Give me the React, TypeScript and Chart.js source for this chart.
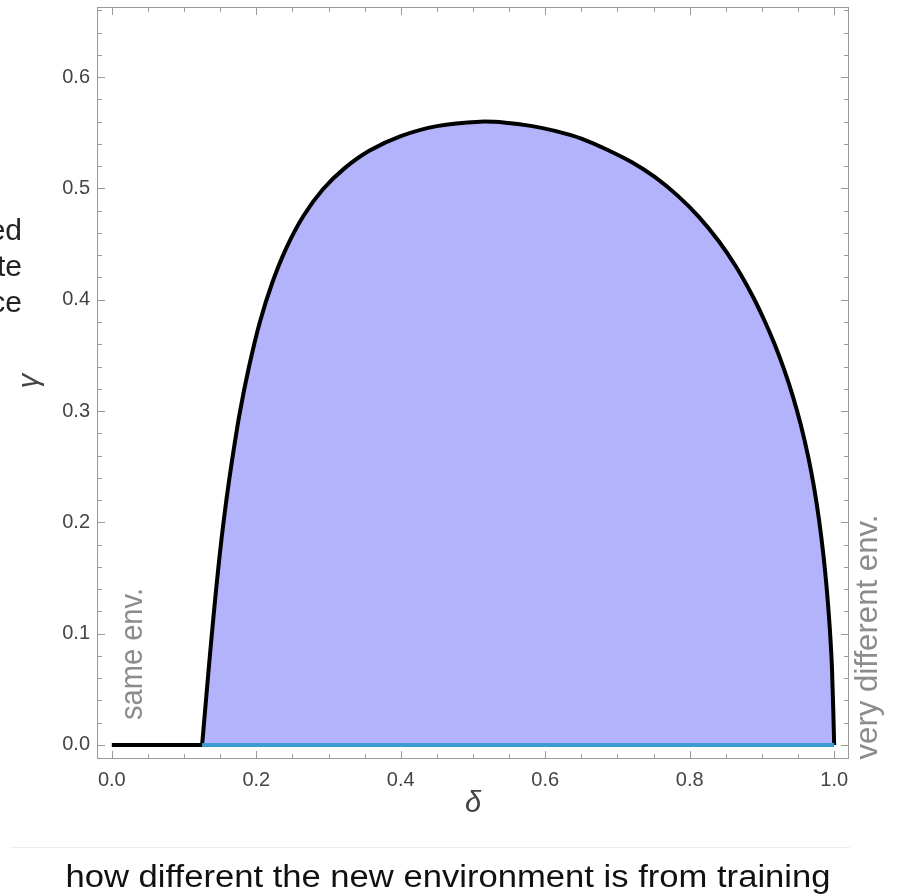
import React, { useEffect, useRef } from 'react';
import { Chart, registerables } from 'chart.js';

Chart.register(...registerables);

// ---- data ----
const flatDelta = [0, 0.125];
const flatGamma = [0, 0];

const curveDelta = [
  0.125, 0.129, 0.133, 0.137, 0.141, 0.146, 0.152, 0.159, 0.167, 0.177,
  0.190, 0.205, 0.222, 0.242, 0.265, 0.292, 0.322, 0.357, 0.400, 0.450,
  0.510, 0.545, 0.580, 0.615, 0.650, 0.685, 0.720, 0.752, 0.784, 0.812,
  0.840, 0.864, 0.887, 0.902, 0.917, 0.931, 0.943, 0.954, 0.964, 0.972,
  0.979, 0.985, 0.990, 0.994, 0.997, 1.000,
];
const curveGamma = [
  0.000, 0.030, 0.060, 0.089, 0.117, 0.150, 0.186, 0.222, 0.258, 0.298,
  0.340, 0.380, 0.415, 0.447, 0.475, 0.499, 0.518, 0.534, 0.547, 0.556,
  0.560, 0.5591, 0.5562, 0.5515, 0.5448, 0.535, 0.5235, 0.5101, 0.4931, 0.4749,
  0.4528, 0.4298, 0.4034, 0.3834, 0.3609, 0.3368, 0.3128, 0.287, 0.259, 0.2318,
  0.2024, 0.1712, 0.1382, 0.1038, 0.0678, 0.000,
];

const baseDelta = [0.125, 1.0];
const baseGamma = [0, 0];

const xTickValues = [0, 0.2, 0.4, 0.6, 0.8, 1.0];
const xTickLabels = ['0.0', '0.2', '0.4', '0.6', '0.8', '1.0'];
const yTickValues = [0, 0.1, 0.2, 0.3, 0.4, 0.5, 0.6];
const yTickLabels = ['0.0', '0.1', '0.2', '0.3', '0.4', '0.5', '0.6'];

const xMinorStep = 0.05;
const yMinorStep = 0.02;

const X_MIN = -0.0205;
const X_MAX = 1.0205;
const Y_MIN = -0.0126;
const Y_MAX = 0.663;

const leftLabelLines = ['ed', 'te', 'ce'];
const yTitle = 'γ';
const xTitle = 'δ';
const caption = 'how different the new environment is from training';
const leftNote = 'same env.';
const rightNote = 'very different env.';

const FONT = '"Liberation Sans", Arial, sans-serif';

function toPoints(xs: number[], ys: number[]) {
  return xs.map((x, i) => ({ x, y: ys[i] }));
}

function fitText(ctx: CanvasRenderingContext2D, text: string, cx: number, cy: number, target: number, rot: number) {
  ctx.save();
  ctx.translate(cx, cy);
  ctx.rotate(rot);
  const w = ctx.measureText(text).width;
  const sx = target / w;
  ctx.scale(sx, 1);
  ctx.textAlign = 'center';
  ctx.fillText(text, 0, 0);
  ctx.restore();
}

const framePlugin = {
  id: 'frameTicks',
  afterDatasetsDraw(chart: any) {
    const { ctx, chartArea, scales } = chart;
    const xs = scales.x;
    const ys = scales.y;
    const { left, right, top, bottom } = chartArea;
    ctx.save();
    ctx.strokeStyle = '#9a9a9a';
    ctx.lineWidth = 1;
    ctx.strokeRect(left + 0.5, top + 0.5, right - left - 1, bottom - top - 1);
    ctx.beginPath();
    const majorLen = 8;
    const minorLen = 5;
    for (let v = 0; v <= 1.0001; v += xMinorStep) {
      const isMajor = xTickValues.some((t) => Math.abs(t - v) < 1e-6);
      const len = isMajor ? majorLen : minorLen;
      const px = Math.round(xs.getPixelForValue(v)) + 0.5;
      ctx.moveTo(px, bottom);
      ctx.lineTo(px, bottom - len);
      ctx.moveTo(px, top);
      ctx.lineTo(px, top + len);
    }
    for (let v = 0; v <= Y_MAX; v += yMinorStep) {
      const isMajor = yTickValues.some((t) => Math.abs(t - v) < 1e-6);
      const len = isMajor ? majorLen : minorLen;
      const py = Math.round(ys.getPixelForValue(v)) + 0.5;
      ctx.moveTo(left, py);
      ctx.lineTo(left + len, py);
      ctx.moveTo(right, py);
      ctx.lineTo(right - len, py);
    }
    ctx.stroke();
    ctx.restore();
  },
};

const textPlugin = {
  id: 'texts',
  afterDraw(chart: any) {
    const { ctx, chartArea } = chart;
    const { left, right, bottom } = chartArea;
    ctx.save();
    // clipped multi-line label on the far left
    ctx.fillStyle = '#222';
    ctx.font = `30px ${FONT}`;
    ctx.textAlign = 'right';
    ctx.textBaseline = 'middle';
    const centers = [232, 268, 304];
    leftLabelLines.forEach((t, i) => ctx.fillText(t, 22, centers[i]));

    // y title
    ctx.fillStyle = '#444';
    ctx.font = `italic 29px ${FONT}`;
    ctx.save();
    ctx.translate(30, 381);
    ctx.rotate(-Math.PI / 2);
    ctx.textAlign = 'center';
    ctx.textBaseline = 'middle';
    ctx.fillText(yTitle, 0, 0);
    ctx.restore();

    // x title
    ctx.textAlign = 'center';
    ctx.textBaseline = 'middle';
    ctx.fillText(xTitle, (left + right) / 2, bottom + 45);

    // faint separator
    ctx.strokeStyle = '#ededed';
    ctx.lineWidth = 1;
    ctx.beginPath();
    ctx.moveTo(10, 847.5);
    ctx.lineTo(850, 847.5);
    ctx.stroke();

    // caption
    ctx.fillStyle = '#111';
    ctx.font = `31px ${FONT}`;
    ctx.textBaseline = 'alphabetic';
    fitText(ctx, caption, 448, 887, 765, 0);

    // rotated notes
    ctx.fillStyle = '#8c8c8c';
    ctx.font = `31px ${FONT}`;
    ctx.textBaseline = 'middle';
    fitText(ctx, leftNote, 133, 654, 132, -Math.PI / 2);
    fitText(ctx, rightNote, 868, 637, 245, -Math.PI / 2);
    ctx.restore();
  },
};

export default function App() {
  const ref = useRef<HTMLCanvasElement | null>(null);
  useEffect(() => {
    document.body.style.margin = '0';
    const canvas = ref.current;
    if (!canvas) return;
    const chart = new Chart(canvas, {
      type: 'scatter',
      data: {
        datasets: [
          {
            label: 'region',
            data: toPoints(curveDelta, curveGamma),
            showLine: true,
            borderColor: '#000',
            borderWidth: 4,
            backgroundColor: '#b3b3fb',
            fill: 'origin',
            pointRadius: 0,
            tension: 0.3,
            order: 3,
          },
          {
            label: 'base',
            data: toPoints(baseDelta, baseGamma),
            showLine: true,
            borderColor: '#3d9bd1',
            borderWidth: 4,
            pointRadius: 0,
            fill: false,
            order: 2,
          },
          {
            label: 'flat',
            data: toPoints(flatDelta, flatGamma),
            showLine: true,
            borderColor: '#000',
            borderWidth: 4,
            pointRadius: 0,
            fill: false,
            order: 1,
          },
        ],
      },
      options: {
        responsive: false,
        animation: false,
        layout: { padding: { left: 0, top: 7, right: 48, bottom: 96 } },
        plugins: { legend: { display: false }, tooltip: { enabled: false } },
        scales: {
          x: {
            type: 'linear',
            min: X_MIN,
            max: X_MAX,
            afterBuildTicks: (s: any) => {
              s.ticks = xTickValues.map((v) => ({ value: v }));
            },
            afterFit: (s: any) => {
              s.height = 40;
              s.paddingLeft = 0;
              s.paddingRight = 0;
            },
            grid: { display: false, drawTicks: false },
            border: { display: false },
            ticks: {
              padding: 9,
              color: '#444',
              font: { family: FONT, size: 20 },
              maxRotation: 0,
              autoSkip: false,
              callback: (v: any) => {
                const i = xTickValues.findIndex((t) => Math.abs(t - v) < 1e-6);
                return i >= 0 ? xTickLabels[i] : '';
              },
            },
          },
          y: {
            type: 'linear',
            min: Y_MIN,
            max: Y_MAX,
            afterBuildTicks: (s: any) => {
              s.ticks = yTickValues.map((v) => ({ value: v }));
            },
            afterFit: (s: any) => {
              s.width = 97;
              s.paddingTop = 0;
              s.paddingBottom = 0;
            },
            grid: { display: false, drawTicks: false },
            border: { display: false },
            ticks: {
              padding: 7,
              color: '#444',
              font: { family: FONT, size: 20 },
              autoSkip: false,
              callback: (v: any) => {
                const i = yTickValues.findIndex((t) => Math.abs(t - v) < 1e-6);
                return i >= 0 ? yTickLabels[i] : '';
              },
            },
          },
        },
      },
      plugins: [framePlugin, textPlugin],
    } as any);
    return () => chart.destroy();
  }, []);
  return (
    <div style={{ position: 'absolute', left: 0, top: 0, width: 897, height: 895, background: '#fff' }}>
      <canvas ref={ref} width={897} height={895} />
    </div>
  );
}
